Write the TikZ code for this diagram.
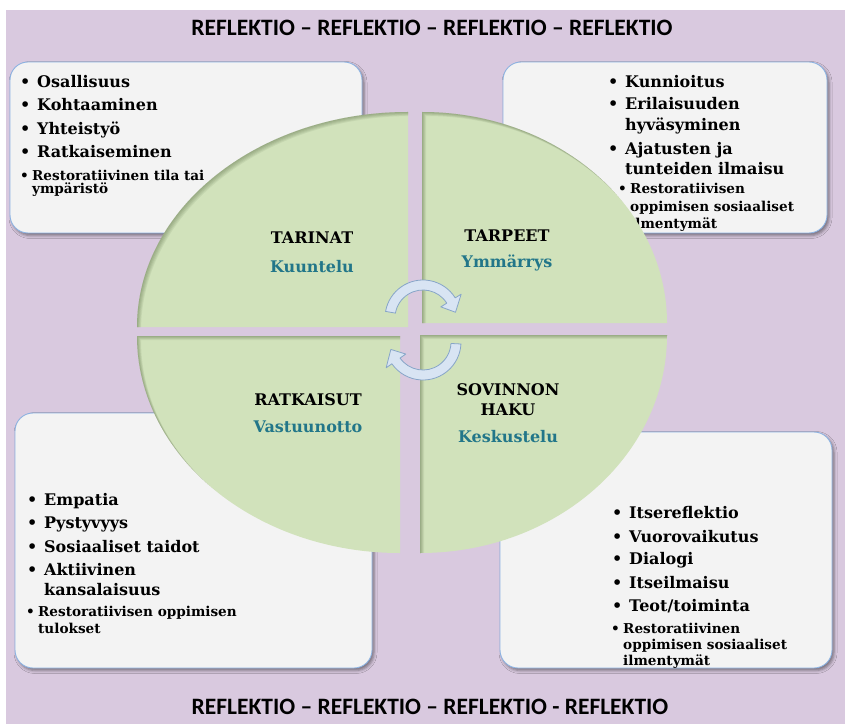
\documentclass[tikz,border=0pt]{standalone}
\usepackage{fontspec}
\usepackage{xcolor}
\usepackage{tikz}
\usetikzlibrary{positioning, shadows.blur}

\newfontfamily\bodyfont{DejaVu Serif}
\newfontfamily\titlefont{Carlito}

\definecolor{lilac}{RGB}{217,201,223}
\definecolor{quadgreen}{RGB}{209,226,187}
\definecolor{shadegreen}{RGB}{55,75,35}
\definecolor{boxfill}{RGB}{243,243,243}
\definecolor{boxline}{RGB}{141,179,226}
\definecolor{tealtext}{RGB}{34,118,137}
\definecolor{arrowfill}{RGB}{216,228,243}
\definecolor{arrowline}{RGB}{135,165,200}

\newcommand{\bul}{\makebox[17pt][l]{\textbullet}}
\newcommand{\cont}{\hspace*{17pt}}
\newcommand{\sbul}{\makebox[12pt][l]{\textbullet}}
\newcommand{\scont}{\hspace*{12pt}}

\tikzset{
    infobox/.style={rectangle, rounded corners=18pt, fill=boxfill, draw=boxline, line width=0.9pt,
        blur shadow={shadow xshift=2pt, shadow yshift=-2.5pt, shadow blur radius=3pt, shadow opacity=45}},
    bigitem/.style={anchor=base west, inner sep=0pt, font=\bodyfont\bfseries\fontsize{16}{19}\selectfont},
    smallitem/.style={anchor=base west, inner sep=0pt, font=\bodyfont\bfseries\fontsize{13.6}{15}\selectfont},
    quadtitle/.style={inner sep=0pt, align=center, font=\bodyfont\bfseries\fontsize{16}{20}\selectfont},
    quadword/.style={quadtitle, text=tealtext},
    reflektio/.style={inner sep=0pt, font=\titlefont\bfseries\fontsize{23.5}{28}\selectfont},
    cyclearrow/.style={fill=arrowfill, draw=arrowline, line width=0.8pt, line join=round}
}

\begin{document}
\begin{tikzpicture}[x=1pt, y=1pt]
    \useasboundingbox (0,0) rectangle (845,724);
    \fill[white] (0,0) rectangle (845,724);
    \fill[lilac] (6,0) rectangle (845,714);

    \node[reflektio] (topTitle) at (432,696) {REFLEKTIO – REFLEKTIO – REFLEKTIO – REFLEKTIO};
    \node[reflektio] (bottomTitle) at (430,17) {REFLEKTIO – REFLEKTIO – REFLEKTIO - REFLEKTIO};

    % corner boxes
    \node[infobox, minimum width=352, minimum height=171] (tlBox) at (186,576.5) {};
    \foreach \y/\txt in {636/\bul Osallisuus, 613/\bul Kohtaaminen, 589/\bul Yhteistyö, 566/\bul Ratkaiseminen}
        \node[bigitem] (tl\y) at (20,\y) {\txt};
    \foreach \y/\txt in {543/\sbul Restoratiivinen tila tai, 530/\scont ympäristö}
        \node[smallitem] (tl\y) at (20,\y) {\txt};

    \node[infobox, minimum width=324, minimum height=171] (trBox) at (665,576.5) {};
    \foreach \y/\txt in {636/\bul Kunnioitus, 614/\bul Erilaisuuden, 593/\cont hyväsyminen, 569/\bul Ajatusten ja, 549/\cont tunteiden ilmaisu}
        \node[bigitem] (tr\y) at (608,\y) {\txt};
    \foreach \y/\txt in {530/\sbul Restoratiivisen, 512/\scont oppimisen sosiaaliset, 495/\scont ilmentymät}
        \node[smallitem] (tr\y) at (618,\y) {\txt};

    \node[infobox, minimum width=357, minimum height=255] (blBox) at (193.5,183.5) {};
    \foreach \y/\txt in {219/\bul Empatia, 196/\bul Pystyvyys, 172/\bul Sosiaaliset taidot, 149/\bul Aktiivinen, 129/\cont kansalaisuus}
        \node[bigitem] (bl\y) at (27,\y) {\txt};
    \foreach \y/\txt in {108/\sbul Restoratiivisen oppimisen, 91/\scont tulokset}
        \node[smallitem] (bl\y) at (26,\y) {\txt};

    \node[infobox, minimum width=332, minimum height=236] (brBox) at (666,174) {};
    \foreach \y/\txt in {206/\bul Itsereflektio, 182/\bul Vuorovaikutus, 160/\bul Dialogi, 136/\bul Itseilmaisu, 113/{\bul Teot/toiminta}}
        \node[bigitem] (br\y) at (612,\y) {\txt};
    \foreach \y/\txt in {91/\sbul Restoratiivinen, 75/\scont oppimisen sosiaaliset, 59/\scont ilmentymät}
        \node[smallitem] (br\y) at (611,\y) {\txt};

    % four quarters of the circle, with a soft inner shadow
    \foreach \qx/\qy/\qa/\qrx/\qry in {408/397/90/271/215, 422/401/0/245/211, 400/388/180/263/217, 420/389/270/247/218} {
        \fill[quadgreen] (\qx,\qy) -- ++({\qrx*cos(\qa)},{\qry*sin(\qa)}) arc[start angle=\qa, delta angle=90, x radius=\qrx, y radius=\qry] -- cycle;
        \begin{scope}
            \clip (\qx,\qy) -- ++({\qrx*cos(\qa)},{\qry*sin(\qa)}) arc[start angle=\qa, delta angle=90, x radius=\qrx, y radius=\qry] -- cycle;
            \foreach \s in {1,...,5}
                \fill[shadegreen, opacity=0.08, even odd rule, shift={(\s*0.8,-\s*0.8)}]
                    (-60,-60) rectangle (900,780)
                    (\qx,\qy) -- ++({\qrx*cos(\qa)},{\qry*sin(\qa)}) arc[start angle=\qa, delta angle=90, x radius=\qrx, y radius=\qry] -- cycle;
        \end{scope}
    }

    \node[quadtitle] (tarinat) at (312,486) {TARINAT};
    \node[quadword] (kuuntelu) at (312,457) {Kuuntelu};
    \node[quadtitle] (tarpeet) at (507,488) {TARPEET};
    \node[quadword] (ymmarrys) at (507,461) {Ymmärrys};
    \node[quadtitle] (ratkaisut) at (308,324) {RATKAISUT};
    \node[quadword] (vastuunotto) at (308,297) {Vastuunotto};
    \node[quadtitle] (sovinnon) at (508,324) {SOVINNON\\HAKU};
    \node[quadword] (keskustelu) at (508,287) {Keskustelu};

    % turning arrows in the middle
    \begin{scope}[shift={(423,406)}]
        \filldraw[cyclearrow] (170:38) arc[start angle=170, end angle=32, radius=38] -- (32:45) -- (10:33) -- (32:21) -- (32:28) arc[start angle=32, end angle=170, radius=28] -- cycle;
    \end{scope}
    \begin{scope}[shift={(423,382)}]
        \filldraw[cyclearrow] (-3:38) arc[start angle=-3, end angle=-145, radius=38] -- (-145:45) -- (-167:33) -- (-145:21) -- (-145:28) arc[start angle=-145, end angle=-3, radius=28] -- cycle;
    \end{scope}
\end{tikzpicture}
\end{document}
